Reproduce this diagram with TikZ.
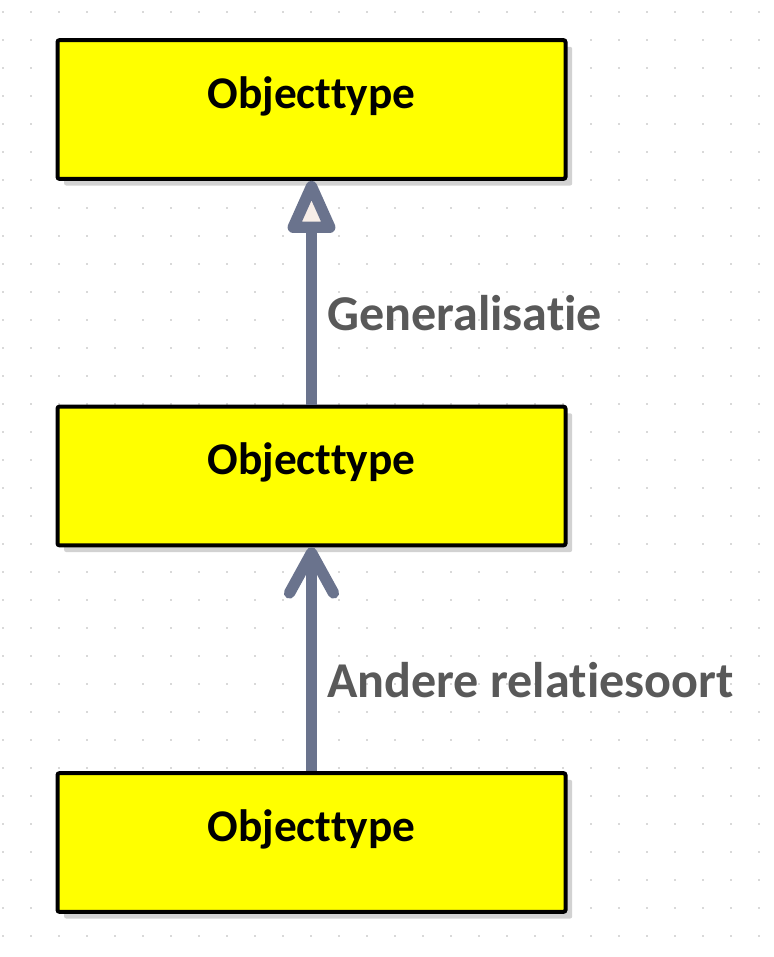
\documentclass[tikz,border=0pt]{standalone}
\usepackage{fontspec}
\setmainfont{Carlito}[Ligatures=NoCommon,Contextuals=NoAlternate]
\usetikzlibrary{arrows.meta,shadows}
\definecolor{boxyellow}{HTML}{FFFF00}
\definecolor{linkgray}{HTML}{6A738D}
\definecolor{headfill}{HTML}{F8EEE8}
\definecolor{labelgray}{HTML}{595959}
\definecolor{shadowgray}{HTML}{D2D2D2}
\begin{document}
\begin{tikzpicture}[x=0.75pt,y=-0.75pt,
  objbox/.style={draw=black,line width=3pt,fill=boxyellow,rounded corners=1.5pt,
    minimum width=381pt,inner sep=0pt,text height=51pt,text depth=53pt,
    font=\fontsize{34}{38}\selectfont\bfseries,
    drop shadow={shadow xshift=5pt,shadow yshift=-5pt,fill=shadowgray,opacity=1}},
  link/.style={draw=linkgray,line width=8.5pt},
  linklabel/.style={anchor=west,inner sep=0pt,text=labelgray,font=\fontsize{37.6}{42}\selectfont\bfseries}]
  \useasboundingbox (0,0) rectangle (774,957);
  % grid dots
  \foreach \i in {0,...,27}
    \foreach \j in {0,...,33}
      \fill[black!30] (3+28*\i,12+28*\j) circle (0.6pt);
  \node[objbox] (top) at (311.5,109.5) {Objecttype};
  \node[objbox] (mid) at (311.5,476) {Objecttype};
  \node[objbox] (bot) at (311.5,842.5) {Objecttype};
  \draw[link,-{Triangle[length=46pt,width=38pt,round,fill=headfill]}] (mid.north) -- (top.south);
  \draw[link,-{Straight Barb[length=30pt,width=33pt,round]}] (bot.north) -- (mid.south);
  \node[linklabel] (gen) at (327,313) {Generalisatie};
  \node[linklabel] (rel) at (327,680) {Andere relatiesoort};
\end{tikzpicture}
\end{document}
